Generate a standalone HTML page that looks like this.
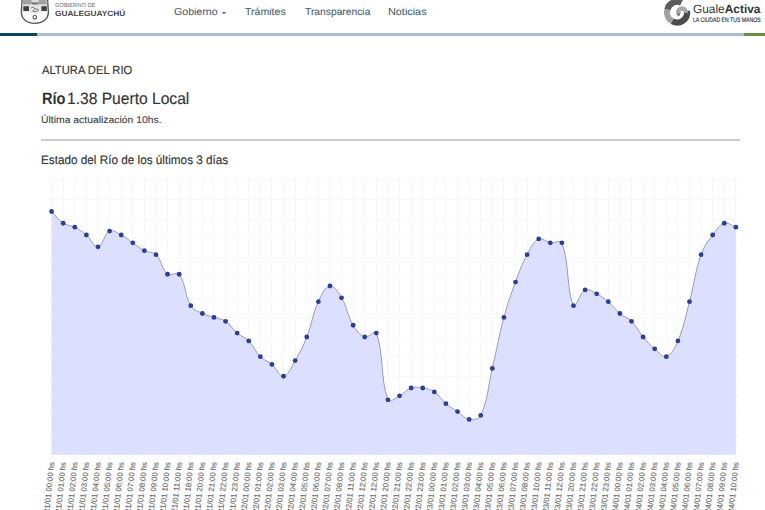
<!DOCTYPE html>
<html><head><meta charset="utf-8">
<style>
html,body{margin:0;padding:0;background:#fff;}
body{width:765px;height:510px;overflow:hidden;position:relative;font-family:"Liberation Sans",sans-serif;color:#333;text-rendering:geometricPrecision;}
.a{position:absolute;white-space:nowrap;line-height:1;}
.chart{position:absolute;left:0;top:0;}
</style></head><body>
<svg class="chart" width="765" height="510" viewBox="0 0 765 510">
<g stroke="#f7f7f7" stroke-width="1" shape-rendering="crispEdges" fill="none"><line x1="51.60" y1="176" x2="51.60" y2="459"/><line x1="63.20" y1="176" x2="63.20" y2="459"/><line x1="74.80" y1="176" x2="74.80" y2="459"/><line x1="86.39" y1="176" x2="86.39" y2="459"/><line x1="97.99" y1="176" x2="97.99" y2="459"/><line x1="109.59" y1="176" x2="109.59" y2="459"/><line x1="121.19" y1="176" x2="121.19" y2="459"/><line x1="132.79" y1="176" x2="132.79" y2="459"/><line x1="144.38" y1="176" x2="144.38" y2="459"/><line x1="155.98" y1="176" x2="155.98" y2="459"/><line x1="167.58" y1="176" x2="167.58" y2="459"/><line x1="179.18" y1="176" x2="179.18" y2="459"/><line x1="190.78" y1="176" x2="190.78" y2="459"/><line x1="202.37" y1="176" x2="202.37" y2="459"/><line x1="213.97" y1="176" x2="213.97" y2="459"/><line x1="225.57" y1="176" x2="225.57" y2="459"/><line x1="237.17" y1="176" x2="237.17" y2="459"/><line x1="248.77" y1="176" x2="248.77" y2="459"/><line x1="260.36" y1="176" x2="260.36" y2="459"/><line x1="271.96" y1="176" x2="271.96" y2="459"/><line x1="283.56" y1="176" x2="283.56" y2="459"/><line x1="295.16" y1="176" x2="295.16" y2="459"/><line x1="306.76" y1="176" x2="306.76" y2="459"/><line x1="318.35" y1="176" x2="318.35" y2="459"/><line x1="329.95" y1="176" x2="329.95" y2="459"/><line x1="341.55" y1="176" x2="341.55" y2="459"/><line x1="353.15" y1="176" x2="353.15" y2="459"/><line x1="364.75" y1="176" x2="364.75" y2="459"/><line x1="376.34" y1="176" x2="376.34" y2="459"/><line x1="387.94" y1="176" x2="387.94" y2="459"/><line x1="399.54" y1="176" x2="399.54" y2="459"/><line x1="411.14" y1="176" x2="411.14" y2="459"/><line x1="422.74" y1="176" x2="422.74" y2="459"/><line x1="434.33" y1="176" x2="434.33" y2="459"/><line x1="445.93" y1="176" x2="445.93" y2="459"/><line x1="457.53" y1="176" x2="457.53" y2="459"/><line x1="469.13" y1="176" x2="469.13" y2="459"/><line x1="480.73" y1="176" x2="480.73" y2="459"/><line x1="492.32" y1="176" x2="492.32" y2="459"/><line x1="503.92" y1="176" x2="503.92" y2="459"/><line x1="515.52" y1="176" x2="515.52" y2="459"/><line x1="527.12" y1="176" x2="527.12" y2="459"/><line x1="538.72" y1="176" x2="538.72" y2="459"/><line x1="550.31" y1="176" x2="550.31" y2="459"/><line x1="561.91" y1="176" x2="561.91" y2="459"/><line x1="573.51" y1="176" x2="573.51" y2="459"/><line x1="585.11" y1="176" x2="585.11" y2="459"/><line x1="596.71" y1="176" x2="596.71" y2="459"/><line x1="608.30" y1="176" x2="608.30" y2="459"/><line x1="619.90" y1="176" x2="619.90" y2="459"/><line x1="631.50" y1="176" x2="631.50" y2="459"/><line x1="643.10" y1="176" x2="643.10" y2="459"/><line x1="654.70" y1="176" x2="654.70" y2="459"/><line x1="666.29" y1="176" x2="666.29" y2="459"/><line x1="677.89" y1="176" x2="677.89" y2="459"/><line x1="689.49" y1="176" x2="689.49" y2="459"/><line x1="701.09" y1="176" x2="701.09" y2="459"/><line x1="712.69" y1="176" x2="712.69" y2="459"/><line x1="724.28" y1="176" x2="724.28" y2="459"/><line x1="735.88" y1="176" x2="735.88" y2="459"/><line x1="47.5" y1="180.10" x2="739.5" y2="180.10"/><line x1="47.5" y1="199.71" x2="739.5" y2="199.71"/><line x1="47.5" y1="219.33" x2="739.5" y2="219.33"/><line x1="47.5" y1="238.94" x2="739.5" y2="238.94"/><line x1="47.5" y1="258.56" x2="739.5" y2="258.56"/><line x1="47.5" y1="278.17" x2="739.5" y2="278.17"/><line x1="47.5" y1="297.79" x2="739.5" y2="297.79"/><line x1="47.5" y1="317.40" x2="739.5" y2="317.40"/><line x1="47.5" y1="337.01" x2="739.5" y2="337.01"/><line x1="47.5" y1="356.63" x2="739.5" y2="356.63"/><line x1="47.5" y1="376.24" x2="739.5" y2="376.24"/><line x1="47.5" y1="395.86" x2="739.5" y2="395.86"/><line x1="47.5" y1="415.47" x2="739.5" y2="415.47"/><line x1="47.5" y1="435.09" x2="739.5" y2="435.09"/><line x1="47.5" y1="454.70" x2="739.5" y2="454.70"/></g>
<path d="M51.60,211.48 C56.24,216.19 57.87,219.65 63.20,223.25 C67.15,225.92 70.47,224.98 74.80,227.17 C79.75,229.69 82.14,231.42 86.39,235.02 C91.42,239.27 93.74,247.51 97.99,246.79 C103.02,245.94 103.89,233.99 109.59,231.10 C113.17,229.28 116.86,232.82 121.19,235.02 C126.14,237.53 128.15,239.73 132.79,242.87 C137.43,246.00 139.43,248.20 144.38,250.71 C148.71,252.91 152.74,251.34 155.98,254.63 C162.02,260.76 161.43,269.05 167.58,274.25 C170.71,276.89 176.79,271.02 179.18,274.25 C186.07,283.57 184.24,294.57 190.78,305.63 C193.51,310.26 197.42,310.97 202.37,313.48 C206.70,315.67 209.33,315.83 213.97,317.40 C218.61,318.97 221.62,318.65 225.57,321.32 C230.90,324.93 232.15,328.84 237.17,333.09 C241.42,336.69 244.89,337.00 248.77,340.94 C254.17,346.42 254.96,351.15 260.36,356.63 C264.24,360.56 267.71,360.88 271.96,364.47 C276.98,368.72 279.31,376.96 283.56,376.24 C288.58,375.39 291.20,367.24 295.16,360.55 C300.48,351.55 302.92,346.76 306.76,337.01 C312.19,323.22 312.27,315.08 318.35,301.71 C321.55,294.69 324.93,286.87 329.95,286.02 C334.21,285.30 338.24,292.19 341.55,297.79 C347.52,307.88 347.18,315.15 353.15,325.25 C356.46,330.84 359.42,335.21 364.75,337.01 C368.70,338.35 374.92,329.25 376.34,333.09 C384.20,354.35 380.08,378.52 387.94,399.78 C389.36,403.63 395.21,398.05 399.54,395.86 C404.49,393.35 406.06,389.73 411.14,388.01 C415.34,386.59 418.22,387.25 422.74,388.01 C427.50,388.82 430.38,389.26 434.33,391.93 C439.66,395.54 440.91,399.46 445.93,403.70 C450.19,407.30 452.89,408.41 457.53,411.55 C462.17,414.69 464.18,418.56 469.13,419.39 C473.46,420.13 478.86,419.58 480.73,415.47 C488.13,399.19 487.86,387.27 492.32,368.40 C497.14,348.04 498.50,337.58 503.92,317.40 C507.78,303.06 510.37,296.03 515.52,282.09 C519.65,270.92 521.51,265.07 527.12,254.63 C530.79,247.81 533.01,241.84 538.72,238.94 C542.29,237.13 545.55,242.06 550.31,242.87 C554.83,243.63 560.49,239.01 561.91,242.87 C569.76,264.11 566.40,291.21 573.51,305.63 C575.68,310.04 579.41,292.83 585.11,289.94 C588.69,288.13 592.38,291.67 596.71,293.86 C601.66,296.37 604.05,298.11 608.30,301.71 C613.33,305.96 614.88,309.23 619.90,313.48 C624.16,317.08 627.62,317.39 631.50,321.32 C636.90,326.80 638.07,331.07 643.10,337.01 C647.35,342.05 649.67,344.54 654.70,348.78 C658.95,352.38 662.42,357.94 666.29,356.63 C671.70,354.80 674.90,348.03 677.89,340.94 C684.17,326.06 685.24,317.51 689.49,301.71 C694.52,282.99 694.78,272.78 701.09,254.63 C704.05,246.11 707.31,242.30 712.69,235.02 C716.59,229.74 718.95,225.05 724.28,223.25 C728.23,221.92 731.24,225.61 735.88,227.17 L735.88,454.70 L51.60,454.70 Z" fill="#dddfff" stroke="none"/>
<path d="M51.60,211.48 C56.24,216.19 57.87,219.65 63.20,223.25 C67.15,225.92 70.47,224.98 74.80,227.17 C79.75,229.69 82.14,231.42 86.39,235.02 C91.42,239.27 93.74,247.51 97.99,246.79 C103.02,245.94 103.89,233.99 109.59,231.10 C113.17,229.28 116.86,232.82 121.19,235.02 C126.14,237.53 128.15,239.73 132.79,242.87 C137.43,246.00 139.43,248.20 144.38,250.71 C148.71,252.91 152.74,251.34 155.98,254.63 C162.02,260.76 161.43,269.05 167.58,274.25 C170.71,276.89 176.79,271.02 179.18,274.25 C186.07,283.57 184.24,294.57 190.78,305.63 C193.51,310.26 197.42,310.97 202.37,313.48 C206.70,315.67 209.33,315.83 213.97,317.40 C218.61,318.97 221.62,318.65 225.57,321.32 C230.90,324.93 232.15,328.84 237.17,333.09 C241.42,336.69 244.89,337.00 248.77,340.94 C254.17,346.42 254.96,351.15 260.36,356.63 C264.24,360.56 267.71,360.88 271.96,364.47 C276.98,368.72 279.31,376.96 283.56,376.24 C288.58,375.39 291.20,367.24 295.16,360.55 C300.48,351.55 302.92,346.76 306.76,337.01 C312.19,323.22 312.27,315.08 318.35,301.71 C321.55,294.69 324.93,286.87 329.95,286.02 C334.21,285.30 338.24,292.19 341.55,297.79 C347.52,307.88 347.18,315.15 353.15,325.25 C356.46,330.84 359.42,335.21 364.75,337.01 C368.70,338.35 374.92,329.25 376.34,333.09 C384.20,354.35 380.08,378.52 387.94,399.78 C389.36,403.63 395.21,398.05 399.54,395.86 C404.49,393.35 406.06,389.73 411.14,388.01 C415.34,386.59 418.22,387.25 422.74,388.01 C427.50,388.82 430.38,389.26 434.33,391.93 C439.66,395.54 440.91,399.46 445.93,403.70 C450.19,407.30 452.89,408.41 457.53,411.55 C462.17,414.69 464.18,418.56 469.13,419.39 C473.46,420.13 478.86,419.58 480.73,415.47 C488.13,399.19 487.86,387.27 492.32,368.40 C497.14,348.04 498.50,337.58 503.92,317.40 C507.78,303.06 510.37,296.03 515.52,282.09 C519.65,270.92 521.51,265.07 527.12,254.63 C530.79,247.81 533.01,241.84 538.72,238.94 C542.29,237.13 545.55,242.06 550.31,242.87 C554.83,243.63 560.49,239.01 561.91,242.87 C569.76,264.11 566.40,291.21 573.51,305.63 C575.68,310.04 579.41,292.83 585.11,289.94 C588.69,288.13 592.38,291.67 596.71,293.86 C601.66,296.37 604.05,298.11 608.30,301.71 C613.33,305.96 614.88,309.23 619.90,313.48 C624.16,317.08 627.62,317.39 631.50,321.32 C636.90,326.80 638.07,331.07 643.10,337.01 C647.35,342.05 649.67,344.54 654.70,348.78 C658.95,352.38 662.42,357.94 666.29,356.63 C671.70,354.80 674.90,348.03 677.89,340.94 C684.17,326.06 685.24,317.51 689.49,301.71 C694.52,282.99 694.78,272.78 701.09,254.63 C704.05,246.11 707.31,242.30 712.69,235.02 C716.59,229.74 718.95,225.05 724.28,223.25 C728.23,221.92 731.24,225.61 735.88,227.17" fill="none" stroke="#949dbb" stroke-width="1"/>
<g fill="#2b3d9d"><circle cx="51.60" cy="211.48" r="2.4"/><circle cx="63.20" cy="223.25" r="2.4"/><circle cx="74.80" cy="227.17" r="2.4"/><circle cx="86.39" cy="235.02" r="2.4"/><circle cx="97.99" cy="246.79" r="2.4"/><circle cx="109.59" cy="231.10" r="2.4"/><circle cx="121.19" cy="235.02" r="2.4"/><circle cx="132.79" cy="242.87" r="2.4"/><circle cx="144.38" cy="250.71" r="2.4"/><circle cx="155.98" cy="254.63" r="2.4"/><circle cx="167.58" cy="274.25" r="2.4"/><circle cx="179.18" cy="274.25" r="2.4"/><circle cx="190.78" cy="305.63" r="2.4"/><circle cx="202.37" cy="313.48" r="2.4"/><circle cx="213.97" cy="317.40" r="2.4"/><circle cx="225.57" cy="321.32" r="2.4"/><circle cx="237.17" cy="333.09" r="2.4"/><circle cx="248.77" cy="340.94" r="2.4"/><circle cx="260.36" cy="356.63" r="2.4"/><circle cx="271.96" cy="364.47" r="2.4"/><circle cx="283.56" cy="376.24" r="2.4"/><circle cx="295.16" cy="360.55" r="2.4"/><circle cx="306.76" cy="337.01" r="2.4"/><circle cx="318.35" cy="301.71" r="2.4"/><circle cx="329.95" cy="286.02" r="2.4"/><circle cx="341.55" cy="297.79" r="2.4"/><circle cx="353.15" cy="325.25" r="2.4"/><circle cx="364.75" cy="337.01" r="2.4"/><circle cx="376.34" cy="333.09" r="2.4"/><circle cx="387.94" cy="399.78" r="2.4"/><circle cx="399.54" cy="395.86" r="2.4"/><circle cx="411.14" cy="388.01" r="2.4"/><circle cx="422.74" cy="388.01" r="2.4"/><circle cx="434.33" cy="391.93" r="2.4"/><circle cx="445.93" cy="403.70" r="2.4"/><circle cx="457.53" cy="411.55" r="2.4"/><circle cx="469.13" cy="419.39" r="2.4"/><circle cx="480.73" cy="415.47" r="2.4"/><circle cx="492.32" cy="368.40" r="2.4"/><circle cx="503.92" cy="317.40" r="2.4"/><circle cx="515.52" cy="282.09" r="2.4"/><circle cx="527.12" cy="254.63" r="2.4"/><circle cx="538.72" cy="238.94" r="2.4"/><circle cx="550.31" cy="242.87" r="2.4"/><circle cx="561.91" cy="242.87" r="2.4"/><circle cx="573.51" cy="305.63" r="2.4"/><circle cx="585.11" cy="289.94" r="2.4"/><circle cx="596.71" cy="293.86" r="2.4"/><circle cx="608.30" cy="301.71" r="2.4"/><circle cx="619.90" cy="313.48" r="2.4"/><circle cx="631.50" cy="321.32" r="2.4"/><circle cx="643.10" cy="337.01" r="2.4"/><circle cx="654.70" cy="348.78" r="2.4"/><circle cx="666.29" cy="356.63" r="2.4"/><circle cx="677.89" cy="340.94" r="2.4"/><circle cx="689.49" cy="301.71" r="2.4"/><circle cx="701.09" cy="254.63" r="2.4"/><circle cx="712.69" cy="235.02" r="2.4"/><circle cx="724.28" cy="223.25" r="2.4"/><circle cx="735.88" cy="227.17" r="2.4"/></g>
<g font-family="Liberation Sans, sans-serif" font-size="7.75" fill="#6a6a6a" stroke="#6a6a6a" stroke-width="0.12"><text transform="translate(51.60,462.0) rotate(-84.3)" text-anchor="end" dy="0.35em">21/01 00:00 hs</text><text transform="translate(63.20,462.0) rotate(-84.3)" text-anchor="end" dy="0.35em">21/01 01:00 hs</text><text transform="translate(74.80,462.0) rotate(-84.3)" text-anchor="end" dy="0.35em">21/01 02:00 hs</text><text transform="translate(86.39,462.0) rotate(-84.3)" text-anchor="end" dy="0.35em">21/01 03:00 hs</text><text transform="translate(97.99,462.0) rotate(-84.3)" text-anchor="end" dy="0.35em">21/01 04:00 hs</text><text transform="translate(109.59,462.0) rotate(-84.3)" text-anchor="end" dy="0.35em">21/01 05:00 hs</text><text transform="translate(121.19,462.0) rotate(-84.3)" text-anchor="end" dy="0.35em">21/01 06:00 hs</text><text transform="translate(132.79,462.0) rotate(-84.3)" text-anchor="end" dy="0.35em">21/01 07:00 hs</text><text transform="translate(144.38,462.0) rotate(-84.3)" text-anchor="end" dy="0.35em">21/01 08:00 hs</text><text transform="translate(155.98,462.0) rotate(-84.3)" text-anchor="end" dy="0.35em">21/01 09:00 hs</text><text transform="translate(167.58,462.0) rotate(-84.3)" text-anchor="end" dy="0.35em">21/01 10:00 hs</text><text transform="translate(179.18,462.0) rotate(-84.3)" text-anchor="end" dy="0.35em">21/01 11:00 hs</text><text transform="translate(190.78,462.0) rotate(-84.3)" text-anchor="end" dy="0.35em">21/01 18:00 hs</text><text transform="translate(202.37,462.0) rotate(-84.3)" text-anchor="end" dy="0.35em">21/01 20:00 hs</text><text transform="translate(213.97,462.0) rotate(-84.3)" text-anchor="end" dy="0.35em">21/01 21:00 hs</text><text transform="translate(225.57,462.0) rotate(-84.3)" text-anchor="end" dy="0.35em">21/01 22:00 hs</text><text transform="translate(237.17,462.0) rotate(-84.3)" text-anchor="end" dy="0.35em">21/01 23:00 hs</text><text transform="translate(248.77,462.0) rotate(-84.3)" text-anchor="end" dy="0.35em">22/01 00:00 hs</text><text transform="translate(260.36,462.0) rotate(-84.3)" text-anchor="end" dy="0.35em">22/01 01:00 hs</text><text transform="translate(271.96,462.0) rotate(-84.3)" text-anchor="end" dy="0.35em">22/01 02:00 hs</text><text transform="translate(283.56,462.0) rotate(-84.3)" text-anchor="end" dy="0.35em">22/01 03:00 hs</text><text transform="translate(295.16,462.0) rotate(-84.3)" text-anchor="end" dy="0.35em">22/01 04:00 hs</text><text transform="translate(306.76,462.0) rotate(-84.3)" text-anchor="end" dy="0.35em">22/01 05:00 hs</text><text transform="translate(318.35,462.0) rotate(-84.3)" text-anchor="end" dy="0.35em">22/01 06:00 hs</text><text transform="translate(329.95,462.0) rotate(-84.3)" text-anchor="end" dy="0.35em">22/01 07:00 hs</text><text transform="translate(341.55,462.0) rotate(-84.3)" text-anchor="end" dy="0.35em">22/01 08:00 hs</text><text transform="translate(353.15,462.0) rotate(-84.3)" text-anchor="end" dy="0.35em">22/01 11:00 hs</text><text transform="translate(364.75,462.0) rotate(-84.3)" text-anchor="end" dy="0.35em">22/01 12:00 hs</text><text transform="translate(376.34,462.0) rotate(-84.3)" text-anchor="end" dy="0.35em">22/01 12:00 hs</text><text transform="translate(387.94,462.0) rotate(-84.3)" text-anchor="end" dy="0.35em">22/01 20:00 hs</text><text transform="translate(399.54,462.0) rotate(-84.3)" text-anchor="end" dy="0.35em">22/01 21:00 hs</text><text transform="translate(411.14,462.0) rotate(-84.3)" text-anchor="end" dy="0.35em">22/01 22:00 hs</text><text transform="translate(422.74,462.0) rotate(-84.3)" text-anchor="end" dy="0.35em">22/01 23:00 hs</text><text transform="translate(434.33,462.0) rotate(-84.3)" text-anchor="end" dy="0.35em">23/01 00:00 hs</text><text transform="translate(445.93,462.0) rotate(-84.3)" text-anchor="end" dy="0.35em">23/01 01:00 hs</text><text transform="translate(457.53,462.0) rotate(-84.3)" text-anchor="end" dy="0.35em">23/01 02:00 hs</text><text transform="translate(469.13,462.0) rotate(-84.3)" text-anchor="end" dy="0.35em">23/01 03:00 hs</text><text transform="translate(480.73,462.0) rotate(-84.3)" text-anchor="end" dy="0.35em">23/01 04:00 hs</text><text transform="translate(492.32,462.0) rotate(-84.3)" text-anchor="end" dy="0.35em">23/01 05:00 hs</text><text transform="translate(503.92,462.0) rotate(-84.3)" text-anchor="end" dy="0.35em">23/01 06:00 hs</text><text transform="translate(515.52,462.0) rotate(-84.3)" text-anchor="end" dy="0.35em">23/01 07:00 hs</text><text transform="translate(527.12,462.0) rotate(-84.3)" text-anchor="end" dy="0.35em">23/01 08:00 hs</text><text transform="translate(538.72,462.0) rotate(-84.3)" text-anchor="end" dy="0.35em">23/01 10:00 hs</text><text transform="translate(550.31,462.0) rotate(-84.3)" text-anchor="end" dy="0.35em">23/01 11:00 hs</text><text transform="translate(561.91,462.0) rotate(-84.3)" text-anchor="end" dy="0.35em">23/01 12:00 hs</text><text transform="translate(573.51,462.0) rotate(-84.3)" text-anchor="end" dy="0.35em">23/01 20:00 hs</text><text transform="translate(585.11,462.0) rotate(-84.3)" text-anchor="end" dy="0.35em">23/01 21:00 hs</text><text transform="translate(596.71,462.0) rotate(-84.3)" text-anchor="end" dy="0.35em">23/01 22:00 hs</text><text transform="translate(608.30,462.0) rotate(-84.3)" text-anchor="end" dy="0.35em">23/01 23:00 hs</text><text transform="translate(619.90,462.0) rotate(-84.3)" text-anchor="end" dy="0.35em">24/01 00:00 hs</text><text transform="translate(631.50,462.0) rotate(-84.3)" text-anchor="end" dy="0.35em">24/01 01:00 hs</text><text transform="translate(643.10,462.0) rotate(-84.3)" text-anchor="end" dy="0.35em">24/01 02:00 hs</text><text transform="translate(654.70,462.0) rotate(-84.3)" text-anchor="end" dy="0.35em">24/01 03:00 hs</text><text transform="translate(666.29,462.0) rotate(-84.3)" text-anchor="end" dy="0.35em">24/01 04:00 hs</text><text transform="translate(677.89,462.0) rotate(-84.3)" text-anchor="end" dy="0.35em">24/01 05:00 hs</text><text transform="translate(689.49,462.0) rotate(-84.3)" text-anchor="end" dy="0.35em">24/01 06:00 hs</text><text transform="translate(701.09,462.0) rotate(-84.3)" text-anchor="end" dy="0.35em">24/01 07:00 hs</text><text transform="translate(712.69,462.0) rotate(-84.3)" text-anchor="end" dy="0.35em">24/01 08:00 hs</text><text transform="translate(724.28,462.0) rotate(-84.3)" text-anchor="end" dy="0.35em">24/01 09:00 hs</text><text transform="translate(735.88,462.0) rotate(-84.3)" text-anchor="end" dy="0.35em">24/01 10:00 hs</text></g>
</svg>
<!-- header -->
<svg class="a" style="left:0;top:0" width="60" height="30" viewBox="0 0 60 30">
  <path d="M22.2,-1 L21.9,2 L21.4,12 C21.4,19.5 27.5,23.4 34.8,23.4 C42.1,23.4 48.4,19.5 48.4,12 L47.7,2 L47.4,-1 Z" fill="#fff" stroke="#555" stroke-width="1.4"/>
  <rect x="22.8" y="-1" width="9" height="3" fill="#a3a3a3"/>
  <rect x="38.4" y="-1" width="8" height="3" fill="#a3a3a3"/>
  <path d="M32,-1 L38,-1 L37.5,3 L32.5,3 Z" fill="#d8d8d8"/>
  <rect x="21.6" y="2" width="26" height="2.5" fill="#9c9c9c"/>
  <rect x="32" y="3.2" width="5.6" height="1.3" fill="#666"/>
  <rect x="22.5" y="4.6" width="24.4" height="1.2" fill="#d2d2d2"/>
  <rect x="23.3" y="6.2" width="5.7" height="4.9" fill="#404040"/>
  <rect x="41.2" y="6.2" width="5.6" height="4.9" fill="#404040"/>
  <rect x="29" y="5.6" width="12.2" height="7" fill="#e6e6e6"/>
  <path d="M31,8.2 C32,6.8 34.2,7 34.6,8.6 C35,10.2 33,10.6 32.4,11.2 M34.6,8.6 L38.6,9.6 M33,11.3 C35,12.3 37.2,11.6 38.6,10.2" stroke="#777" stroke-width="1" fill="none"/>
  <circle cx="34.8" cy="17.3" r="1.8" fill="none" stroke="#555" stroke-width="1.1"/>
</svg>

<svg class="a" style="left:221.6px;top:12px" width="5" height="3" viewBox="0 0 5 3"><path d="M0,0 L4,0 L2,2.2 Z" fill="#47656f"/></svg>

<svg class="a" style="left:0;top:0;" width="765" height="30" viewBox="0 0 765 30">
  <g fill="none" stroke-width="6.2">
    <path d="M681.5,2.7 A10,10 0 0 0 667.4,9.6" stroke="#5c5c5c"/>
    <path d="M667.4,9.6 A10,10 0 0 0 672.3,21.3" stroke="#a2a2a2"/>
    <path d="M672.3,21.3 A10,10 0 0 0 687,11" stroke="#4c4c4c"/>
  </g>
  <path d="M685.69,12.85 A3.75,3.75 0 1 0 679.35,14.85" fill="none" stroke="#a9a9a9" stroke-width="4.5"/>
  <circle cx="678.8" cy="14.5" r="1.2" fill="#707070"/>
</svg>

<div class="a" style="left:41.3px;top:139px;width:699px;height:2px;background:#cbcbcb"></div>
<div class="a" style="left:0;top:33px;width:37px;height:3px;background:#0d4558"></div>
<div class="a" style="left:37px;top:33px;width:707px;height:3px;background:#abbcd0"></div>
<div class="a" style="left:744px;top:33px;width:21px;height:3px;background:#6b9142"></div>


<div class="a" style="left:55.00px;top:4.00px;font-size:5.7px;color:#707070;transform:scaleX(1.0057);transform-origin:0 0;">GOBIERNO DE</div>
<div class="a" style="left:54.60px;top:10.00px;font-size:7.6px;color:#444;transform:scaleX(1.0923);transform-origin:0 0;font-weight:bold;">GUALEGUAYCHÚ</div>
<div class="a" style="left:173.90px;top:8.00px;font-size:10.1px;color:#47656f;transform:scaleX(1.0494);transform-origin:0 0;-webkit-text-stroke:0.1px #47656f;">Gobierno</div>
<div class="a" style="left:245.00px;top:8.00px;font-size:10.1px;color:#47656f;transform:scaleX(1.0465);transform-origin:0 0;-webkit-text-stroke:0.1px #47656f;">Trámites</div>
<div class="a" style="left:304.90px;top:8.00px;font-size:10.1px;color:#47656f;transform:scaleX(1.0189);transform-origin:0 0;-webkit-text-stroke:0.1px #47656f;">Transparencia</div>
<div class="a" style="left:388.20px;top:8.00px;font-size:10.1px;color:#47656f;transform:scaleX(1.0744);transform-origin:0 0;-webkit-text-stroke:0.1px #47656f;">Noticias</div>
<div class="a" style="left:693.00px;top:3.00px;font-size:12px;color:#333;transform:scaleX(0.9911);transform-origin:0 0;">Guale<b>Activa</b></div>
<div class="a" style="left:693.20px;top:18.00px;font-size:6.4px;color:#333;transform:scaleX(0.8049);transform-origin:0 0;-webkit-text-stroke:0.15px #333;">LA CIUDAD EN TUS MANOS</div>
<div class="a" style="left:42.30px;top:65.00px;font-size:11.8px;color:#333;transform:scaleX(0.9495);transform-origin:0 0;-webkit-text-stroke:0.15px #333;">ALTURA DEL RIO</div>
<div class="a" style="left:41.90px;top:91.00px;font-size:16.5px;color:#333;transform:scaleX(0.8846);transform-origin:0 0;font-weight:bold;">Río</div>
<div class="a" style="left:66.90px;top:91.00px;font-size:16.5px;color:#333;transform:scaleX(0.9453);transform-origin:0 0;-webkit-text-stroke:0.15px #333;">1.38 Puerto Local</div>
<div class="a" style="left:40.90px;top:116.00px;font-size:9.8px;color:#444;transform:scaleX(1.0600);transform-origin:0 0;-webkit-text-stroke:0.12px #444;">Última actualización 10hs.</div>
<div class="a" style="left:41.10px;top:154.00px;font-size:12.4px;color:#333;transform:scaleX(0.9472);transform-origin:0 0;-webkit-text-stroke:0.15px #333;">Estado del Río de los últimos 3 días</div>
</body></html>
